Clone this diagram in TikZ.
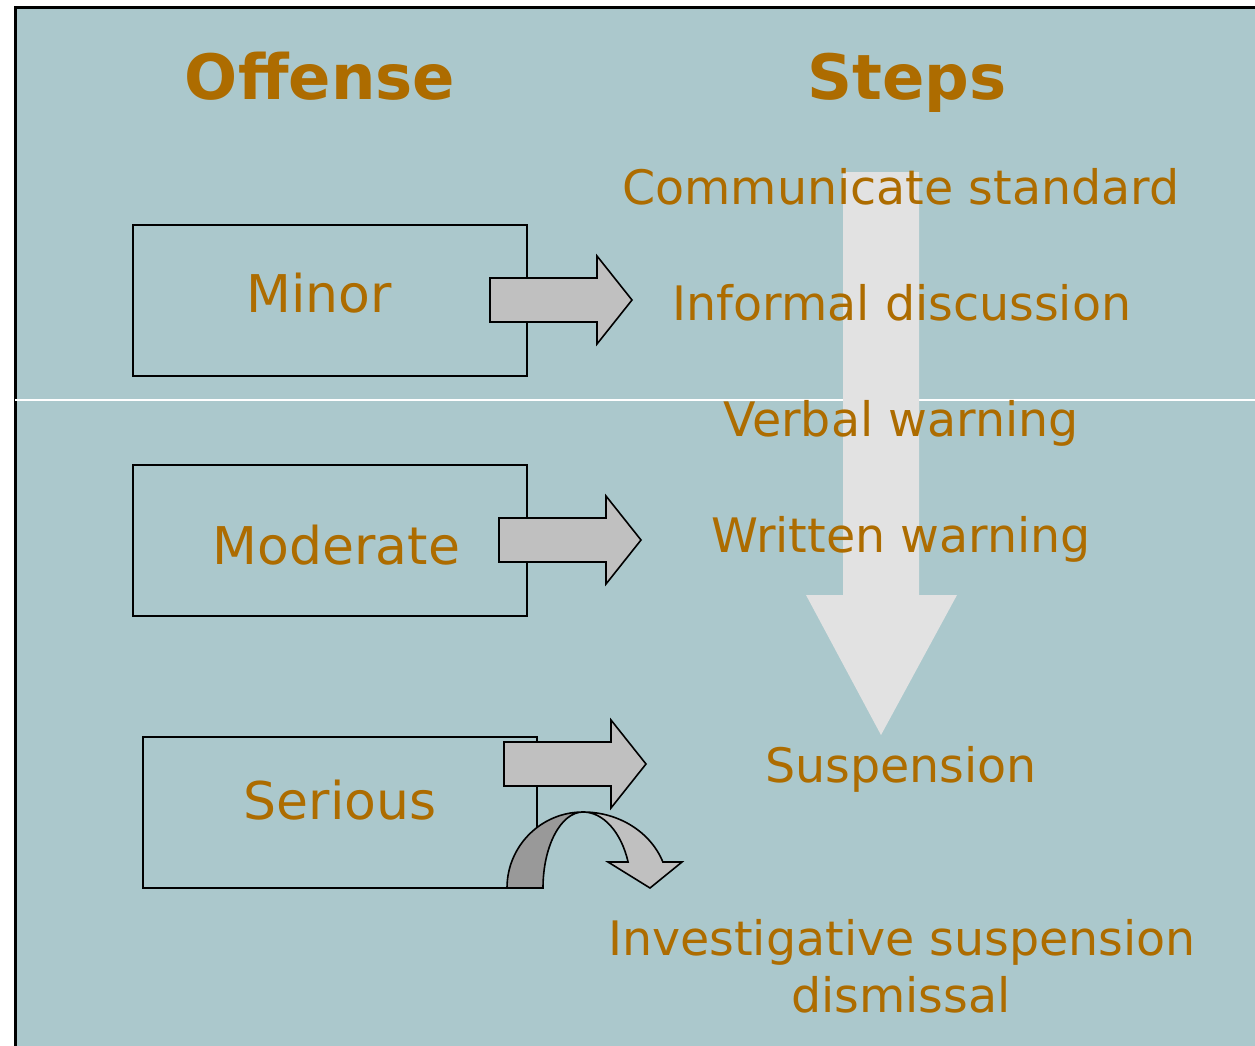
\documentclass[tikz,border=0pt]{standalone}
\usepackage{fontspec}
\setmainfont{DejaVu Sans}
\usepackage{xcolor}
\usetikzlibrary{positioning}
\definecolor{slidebg}{RGB}{171, 200, 204}
\definecolor{rustbrown}{RGB}{173, 108, 0}
\definecolor{arrowgray}{RGB}{192, 192, 192}
\definecolor{backgray}{RGB}{153, 153, 153}
\definecolor{shaftgray}{RGB}{226, 226, 226}

\begin{document}
\begin{tikzpicture}[x=1pt, y=-1pt,
    offbox/.style={draw=black, line width=2pt, minimum width=394pt, minimum height=151pt, inner sep=0pt},
    headtext/.style={rustbrown, font=\fontsize{62.5}{75}\selectfont\bfseries, anchor=base},
    boxtext/.style={rustbrown, font=\fontsize{52}{62}\selectfont, anchor=base},
    steptext/.style={rustbrown, font=\fontsize{47.5}{57}\selectfont, anchor=base},
    grayarrow/.style={draw=black, line width=1.6pt, line join=miter, fill=arrowgray}]
    \useasboundingbox (0, 0) rectangle (1255, 1046);

    % 背景
    \fill[slidebg] (15, 8) rectangle (1255, 1046);
    \draw[line width=3pt] (15, 1046) -- (15, 8) -- (1255, 8);
    \draw[white, line width=1.5pt] (15, 400) -- (1255, 400);

    % 向下的大箭头
    \fill[shaftgray] (843, 172) -- (919, 172) -- (919, 595) -- (957, 595)
        -- (881, 735) -- (806, 595) -- (843, 595) -- cycle;

    % 标题
    \node[headtext] (offense) at (320, 100) {Offense};
    \node[headtext] (steps) at (907, 100) {Steps};

    % 左侧方框
    \node[offbox] (minorbox) at (330, 300.5) {};
    \node[offbox] (moderatebox) at (330, 540.5) {};
    \node[offbox] (seriousbox) at (339.5, 812.5) {};
    \node[boxtext] (minor) at (319, 312) {Minor};
    \node[boxtext] (moderate) at (336.5, 564) {Moderate};
    \node[boxtext] (serious) at (340, 819) {Serious};

    % 灰色箭头
    \foreach \x/\y in {490/300, 499/540, 504/764} {
        \draw[grayarrow] (\x, \y-22) -- (\x+107, \y-22) -- (\x+107, \y-44) -- (\x+142, \y)
            -- (\x+107, \y+44) -- (\x+107, \y+22) -- (\x, \y+22) -- cycle;
    }

    % 掉头箭头
    \draw[grayarrow] (583, 812) arc[start angle=90, end angle=20, x radius=85pt, y radius=76pt]
        -- (682, 862) -- (650, 888) -- (608, 862) -- (628.1, 862)
        arc[start angle=20, end angle=90, x radius=48pt, y radius=76pt] -- cycle;
    \draw[grayarrow, fill=backgray] (507, 888) arc[start angle=180, end angle=90, radius=76pt]
        arc[start angle=90, end angle=180, x radius=40pt, y radius=76pt] -- cycle;

    % 步骤
    \node[steptext] (communicate) at (901, 204) {Communicate standard};
    \node[steptext] (informal) at (902, 320) {Informal discussion};
    \node[steptext] (verbal) at (901, 436) {Verbal warning};
    \node[steptext] (written) at (901, 552) {Written warning};
    \node[steptext] (suspension) at (901, 782) {Suspension};
    \node[steptext] (investigative) at (902, 955) {Investigative suspension};
    \node[steptext] (dismissal) at (901, 1012) {dismissal};
\end{tikzpicture}
\end{document}
